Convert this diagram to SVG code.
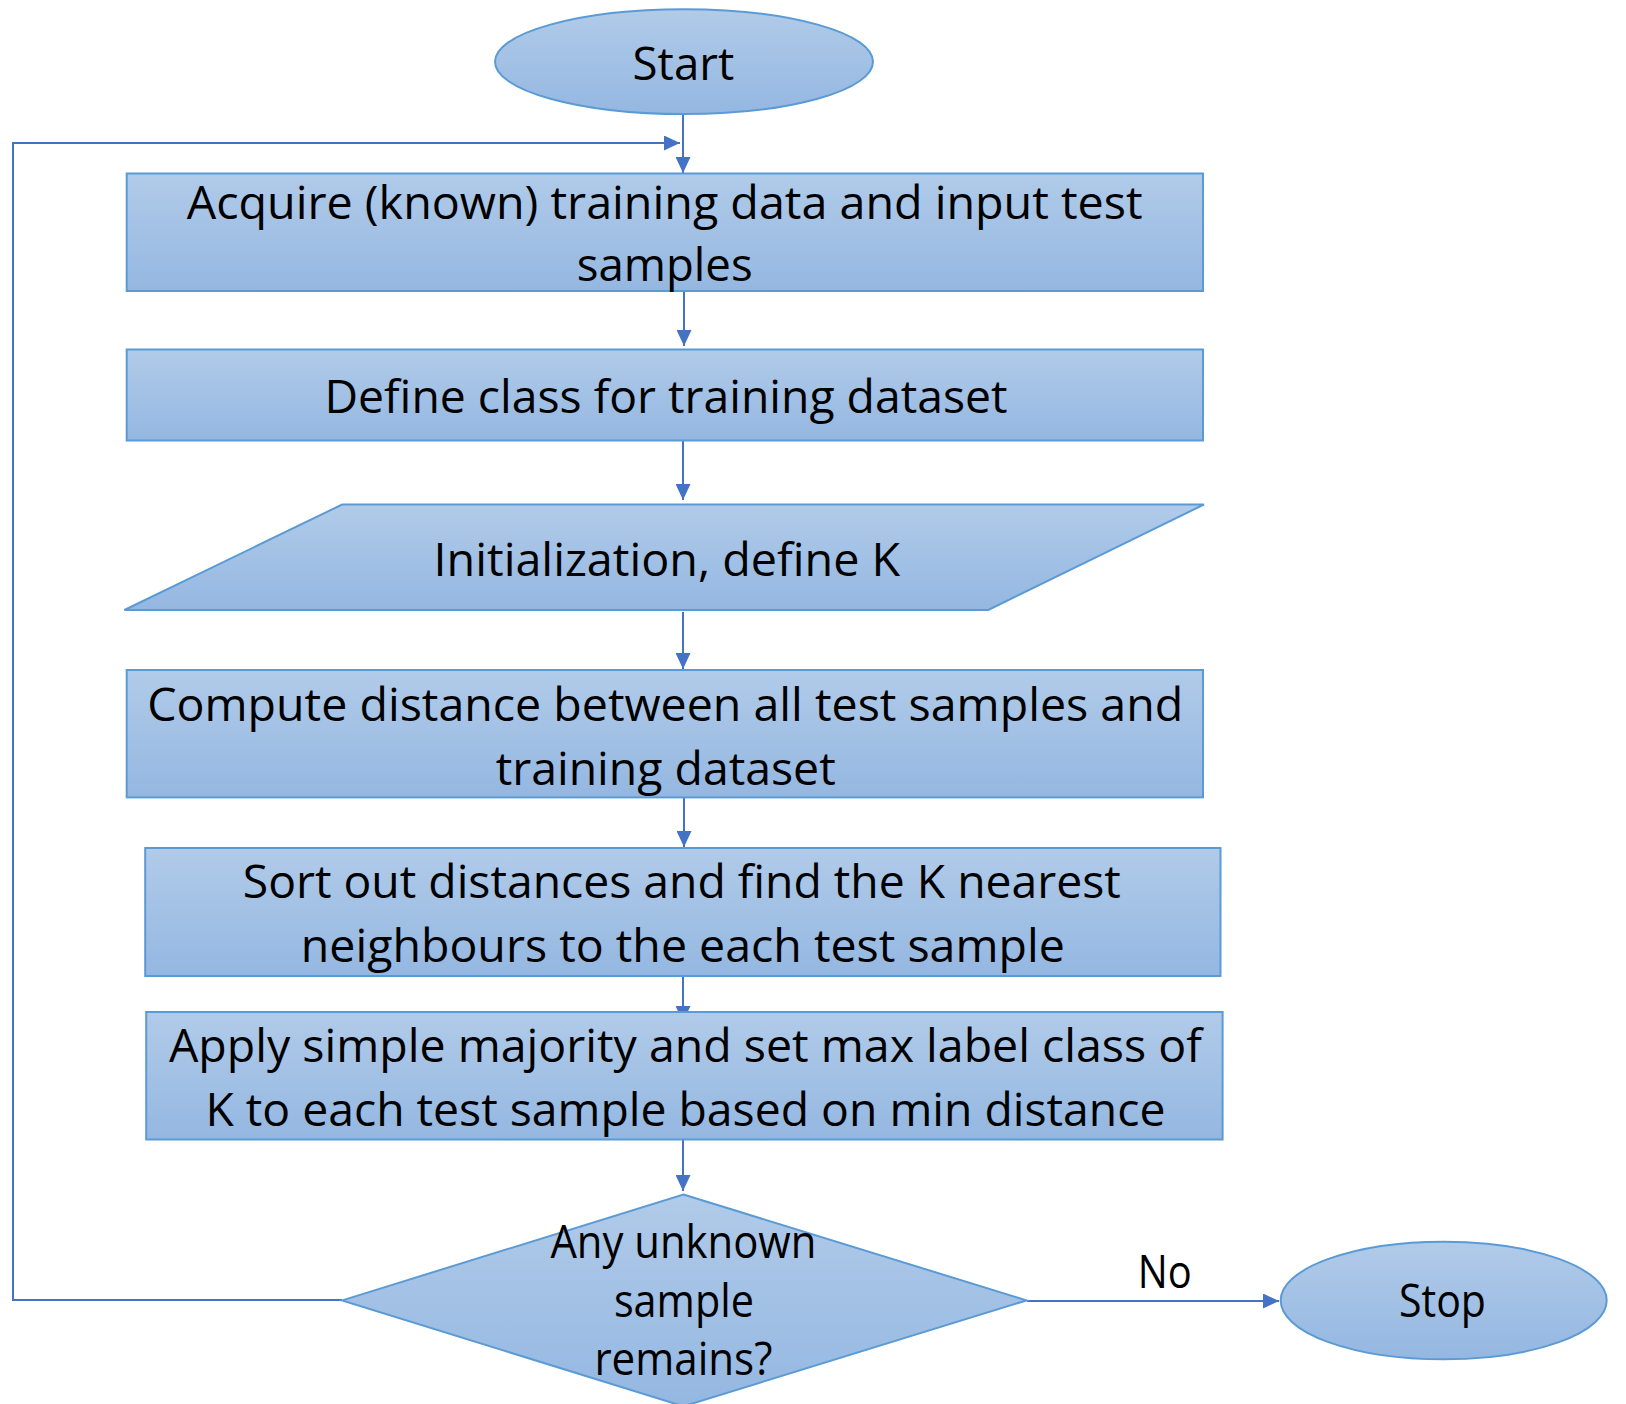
<svg xmlns="http://www.w3.org/2000/svg" width="1626" height="1404" viewBox="0 0 1626 1404">
<style>
.shape{fill:url(#g);stroke:#5b9bd5;stroke-width:2}
.lbl{font-family:"Open Sans","Noto Sans","Liberation Sans",sans-serif;font-size:46px;fill:#000;text-anchor:middle}
.conn{fill:none;stroke:#4472c4;stroke-width:2}
</style>
<defs>
<linearGradient id="g" x1="0" y1="0" x2="0" y2="1">
<stop offset="0" stop-color="#b1cbe9"/>
<stop offset="1" stop-color="#94b7e1"/>
</linearGradient>
<marker id="ah" markerUnits="userSpaceOnUse" markerWidth="16" markerHeight="15" refX="16" refY="7.5" orient="auto">
<path d="M0,0 L16,7.5 L0,15 z" fill="#4472c4"/>
</marker>
</defs>
<rect width="1626" height="1404" fill="#fff"/>
<g id="connectors">
<line class="conn" x1="683" y1="114" x2="683" y2="173" marker-end="url(#ah)"/>
<line class="conn" x1="684" y1="291" x2="684" y2="346" marker-end="url(#ah)"/>
<line class="conn" x1="683" y1="441" x2="683" y2="500" marker-end="url(#ah)"/>
<line class="conn" x1="683" y1="612" x2="683" y2="669" marker-end="url(#ah)"/>
<line class="conn" x1="684" y1="798" x2="684" y2="847" marker-end="url(#ah)"/>
<line class="conn" x1="683" y1="976" x2="683" y2="1022" marker-end="url(#ah)"/>
<line class="conn" x1="683" y1="1133" x2="683" y2="1191" marker-end="url(#ah)"/>
<polyline class="conn" points="342,1300 13,1300 13,143 680,143" marker-end="url(#ah)"/>
<line class="conn" x1="1027" y1="1301" x2="1279" y2="1301" marker-end="url(#ah)"/>
<text class="lbl" x="1164.7" y="1288" textLength="54" lengthAdjust="spacingAndGlyphs">No</text>
</g>
<g id="start">
<ellipse class="shape" cx="684" cy="61.7" rx="189" ry="52.4"/>
<text class="lbl" x="683.4" y="79.5" textLength="101.6" lengthAdjust="spacingAndGlyphs">Start</text>
</g>
<g id="acquire">
<rect class="shape" x="126.7" y="173.5" width="1076.3" height="117.5"/>
<text class="lbl" x="664.7" y="219" textLength="956" lengthAdjust="spacingAndGlyphs">Acquire (known) training data and input test</text>
<text class="lbl" x="664.7" y="281" textLength="176" lengthAdjust="spacingAndGlyphs">samples</text>
</g>
<g id="define">
<rect class="shape" x="126.7" y="349.5" width="1076.3" height="91"/>
<text class="lbl" x="666" y="412.7" textLength="683" lengthAdjust="spacingAndGlyphs">Define class for training dataset</text>
</g>
<g id="init">
<polygon class="shape" points="342.2,504.5 1204,504.5 988.3,610 124.4,610"/>
<text class="lbl" x="666.8" y="575.5" textLength="466.6" lengthAdjust="spacingAndGlyphs">Initialization, define K</text>
</g>
<g id="compute">
<rect class="shape" x="126.7" y="670" width="1076.3" height="127.4"/>
<text class="lbl" x="665.2" y="720.7" textLength="1036" lengthAdjust="spacingAndGlyphs">Compute distance between all test samples and</text>
<text class="lbl" x="665.7" y="784.5" textLength="340" lengthAdjust="spacingAndGlyphs">training dataset</text>
</g>
<g id="sort">
<rect class="shape" x="145.2" y="848" width="1075.3" height="128"/>
<text class="lbl" x="681.8" y="897.7" textLength="878" lengthAdjust="spacingAndGlyphs">Sort out distances and find the K nearest</text>
<text class="lbl" x="682.8" y="961.7" textLength="764" lengthAdjust="spacingAndGlyphs">neighbours to the each test sample</text>
</g>
<g id="apply">
<rect class="shape" x="146.2" y="1012" width="1076.4" height="127.5"/>
<text class="lbl" x="685.4" y="1061.7" textLength="1033" lengthAdjust="spacingAndGlyphs">Apply simple majority and set max label class of</text>
<text class="lbl" x="685.4" y="1125.7" textLength="960" lengthAdjust="spacingAndGlyphs">K to each test sample based on min distance</text>
</g>
<g id="decision">
<polygon class="shape" points="683.4,1194.5 1026.6,1300.4 683.4,1406.3 342.2,1300.4"/>
<text class="lbl" x="683.4" y="1258.3" textLength="266" lengthAdjust="spacingAndGlyphs">Any unknown</text>
<text class="lbl" x="683.9" y="1316.7" textLength="140" lengthAdjust="spacingAndGlyphs">sample</text>
<text class="lbl" x="683.4" y="1375" textLength="178" lengthAdjust="spacingAndGlyphs">remains?</text>
</g>
<g id="stop">
<ellipse class="shape" cx="1443.7" cy="1300.5" rx="163" ry="58.8"/>
<text class="lbl" x="1442.5" y="1316.7" textLength="87" lengthAdjust="spacingAndGlyphs">Stop</text>
</g>
</svg>
